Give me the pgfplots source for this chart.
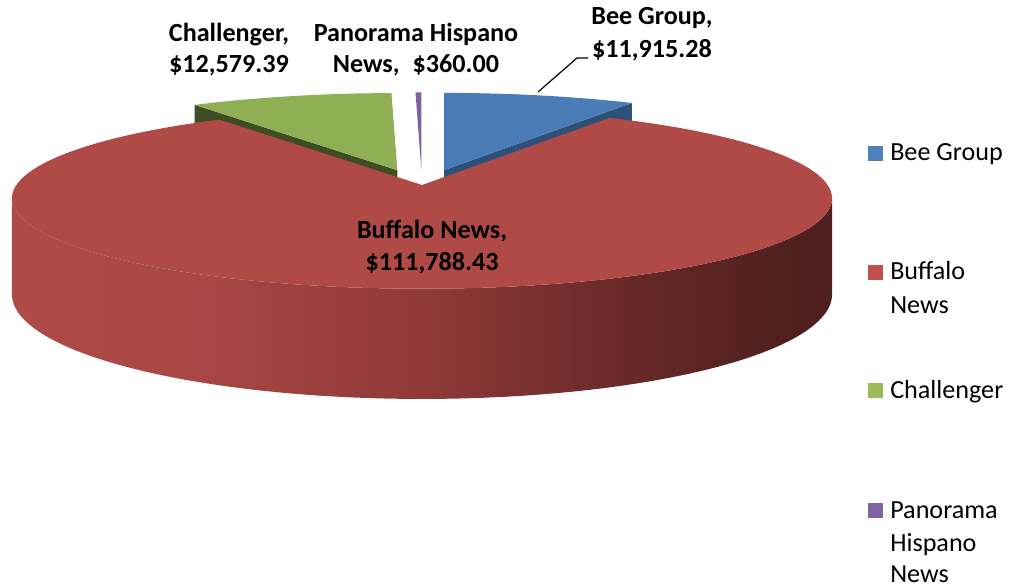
\documentclass[border=0pt]{standalone}
\usepackage{pgfplots}
\usepackage{pgfplotstable}
\pgfplotsset{compat=1.18}
\usepackage{fontspec}
\setmainfont{Carlito}

\definecolor{beetop}{RGB}{74,124,183}
\definecolor{beeside}{RGB}{47,80,120}
\definecolor{buftop}{RGB}{176,74,71}
\definecolor{chaltop}{RGB}{143,175,84}
\definecolor{chalside}{RGB}{62,77,35}
\definecolor{pantop}{RGB}{126,99,160}
\definecolor{legbee}{RGB}{79,129,189}
\definecolor{legbuf}{RGB}{192,80,77}
\definecolor{legchal}{RGB}{155,187,89}
\definecolor{legpan}{RGB}{128,100,162}
\definecolor{rs1}{RGB}{174,74,71}
\definecolor{rs2}{RGB}{168,71,69}
\definecolor{rs3}{RGB}{143,57,55}
\definecolor{rs4}{RGB}{105,42,41}
\definecolor{rs5}{RGB}{84,33,32}
\definecolor{rs6}{RGB}{77,31,30}
\pgfdeclarehorizontalshading{redside}{100bp}{color(0bp)=(rs1); color(25bp)=(rs1);
  color(36.5bp)=(rs2); color(50bp)=(rs3); color(62bp)=(rs4); color(70bp)=(rs5);
  color(75bp)=(rs6); color(100bp)=(rs6)}

% sales per paper
\pgfplotstableread{
name value
Bee 11915.28
Buffalo 111788.43
Challenger 12579.39
Panorama 360.00
}\piedata

\newcommand\lblfont{\fontsize{19.6pt}{24pt}\selectfont\bfseries}
\newcommand\legfont{\fontsize{19.6pt}{24pt}\selectfont}

% one elliptic slice: colour, apex x, apex y, start angle, end angle
\newcommand\slice[5]{%
  \addplot[fill=#1, draw=none, variable=\s, samples at={-1,0,...,180}]
    ({#2+(\s>-0.5)*\pA*cos((#4)+((#5)-(#4))*max(\s,0)/180)/(1+\pE*sin((#4)+((#5)-(#4))*max(\s,0)/180))},
     {#3-(\s>-0.5)*\pB*sin((#4)+((#5)-(#4))*max(\s,0)/180)/(1+\pE*sin((#4)+((#5)-(#4))*max(\s,0)/180))});
}

\begin{document}
\begin{tikzpicture}
\pgfplotstablegetelem{0}{value}\of\piedata \let\vA\pgfplotsretval
\pgfplotstablegetelem{1}{value}\of\piedata \let\vB\pgfplotsretval
\pgfplotstablegetelem{2}{value}\of\piedata \let\vC\pgfplotsretval
\pgfplotstablegetelem{3}{value}\of\piedata \let\vD\pgfplotsretval
\edef\tot{\fpeval{\vA+\vB+\vC+\vD}}
% clockwise from 12 o'clock
\edef\aA{\fpeval{round(90-360*\vA/\tot,4)}}
\edef\aB{\fpeval{round(\aA-360*\vB/\tot,4)}}
\edef\aC{\fpeval{round(\aB-360*\vC/\tot,4)}}
\edef\aD{\fpeval{round(\aC-360*\vD/\tot,4)}}
% ellipse, perspective and depth (pixels)
\def\pA{405.6}\def\pB{88.5}\def\pE{0.147}\def\pD{94}
\def\rx{422}\def\ry{185}
\edef\sil{\fpeval{round(asind(\pE),4)}}
\edef\ta{\fpeval{-180+\sil}}
\edef\tspan{\fpeval{180-2*\sil}}
% exploded apexes
\edef\mA{\fpeval{(90+\aA)/2}}\edef\mC{\fpeval{(\aB+\aC)/2}}\edef\mD{\fpeval{(\aC+\aD)/2}}
\edef\bx{\fpeval{round(\rx+82*cosd(\mA),3)}}\edef\by{\fpeval{round(\ry-15.5*sind(\mA),3)}}
\edef\gx{\fpeval{round(\rx+82*cosd(\mC),3)}}\edef\gy{\fpeval{round(\ry-15.5*sind(\mC),3)}}
\edef\ppx{\fpeval{round(\rx+82*cosd(\mD),3)}}\edef\ppy{\fpeval{round(\ry-15.5*sind(\mD),3)}}
% radial side faces
\edef\bcx{\fpeval{round(\bx+\pA*cosd(\aA)/(1+\pE*sind(\aA)),3)}}
\edef\bcy{\fpeval{round(\by-\pB*sind(\aA)/(1+\pE*sind(\aA)),3)}}
\edef\bcyb{\fpeval{round(\by+(\pD-\pB*sind(\aA))/(1+\pE*sind(\aA)),3)}}
\edef\bya{\fpeval{\by+\pD}}
\edef\gcx{\fpeval{round(\gx+\pA*cosd(\aB)/(1+\pE*sind(\aB)),3)}}
\edef\gcy{\fpeval{round(\gy-\pB*sind(\aB)/(1+\pE*sind(\aB)),3)}}
\edef\gcyb{\fpeval{round(\gy+(\pD-\pB*sind(\aB))/(1+\pE*sind(\aB)),3)}}
\edef\gya{\fpeval{\gy+\pD}}
\def\T{(\ta+\tspan*(\s-(\s>90.5)*(2*\s-181))/90)}
\begin{axis}[
  scale only axis, width=759.75pt, height=441pt,
  xmin=0, xmax=1013, ymin=0, ymax=588, y dir=reverse,
  hide axis, clip=false, no markers,
]
  % back slices
  \addplot[fill=beeside, draw=none] coordinates {(\bx,\by) (\bcx,\bcy) (\bcx,\bcyb) (\bx,\bya)};
  \slice{beetop}{\bx}{\by}{90}{\aA}
  \addplot[fill=chalside, draw=none] coordinates {(\gx,\gy) (\gcx,\gcy) (\gcx,\gcyb) (\gx,\gya)};
  \slice{chaltop}{\gx}{\gy}{\aB}{\aC}
  \slice{pantop}{\ppx}{\ppy}{\aC}{\aD}
  % front slice
  \addplot[shade, shading=redside, draw=none, variable=\s, samples at={0,...,181}]
    ({\rx+\pA*cos(\T)/(1+\pE*sin(\T))},
     {\ry+(-\pB*sin(\T)+(\s>90.5)*\pD)/(1+\pE*sin(\T))});
  \slice{buftop}{\rx}{\ry}{\aA}{\aB}

  % leader line
  \addplot[black, line width=0.9pt] coordinates {(538,92) (577,58) (588,58)};

  % data labels
  \node[anchor=base, font=\lblfont] at (axis cs:652,25) {Bee Group,};
  \node[anchor=base, font=\lblfont] at (axis cs:652,58) {\$11,915.28};
  \node[anchor=base, font=\lblfont] at (axis cs:229,42) {Challenger,};
  \node[anchor=base, font=\lblfont] at (axis cs:229,73) {\$12,579.39};
  \node[anchor=base, font=\lblfont] at (axis cs:416,42) {Panorama Hispano};
  \node[anchor=base, font=\lblfont] at (axis cs:416,73) {News,\hspace{0.5em}\$360.00};
  \node[anchor=base, font=\lblfont] at (axis cs:432,238) {Buffalo News,};
  \node[anchor=base, font=\lblfont] at (axis cs:432,270) {\$111,788.43};

  % legend
  \addplot[fill=legbee, draw=none] coordinates {(868,146) (883,146) (883,161) (868,161)};
  \addplot[fill=legbuf, draw=none] coordinates {(868,265) (883,265) (883,280) (868,280)};
  \addplot[fill=legchal, draw=none] coordinates {(868,383) (883,383) (883,398) (868,398)};
  \addplot[fill=legpan, draw=none] coordinates {(868,503) (883,503) (883,518) (868,518)};
  \node[anchor=base west, font=\legfont, inner xsep=0pt] at (axis cs:890,161) {Bee Group};
  \node[anchor=base west, font=\legfont, inner xsep=0pt] at (axis cs:890,279) {Buffalo};
  \node[anchor=base west, font=\legfont, inner xsep=0pt] at (axis cs:890,313) {News};
  \node[anchor=base west, font=\legfont, inner xsep=0pt] at (axis cs:890,398) {Challenger};
  \node[anchor=base west, font=\legfont, inner xsep=0pt] at (axis cs:890,518) {Panorama};
  \node[anchor=base west, font=\legfont, inner xsep=0pt] at (axis cs:890,551) {Hispano};
  \node[anchor=base west, font=\legfont, inner xsep=0pt] at (axis cs:890,582) {News};
\end{axis}
\pgfresetboundingbox
\path (0,0) rectangle (759.75pt,441pt);
\end{tikzpicture}
\end{document}
